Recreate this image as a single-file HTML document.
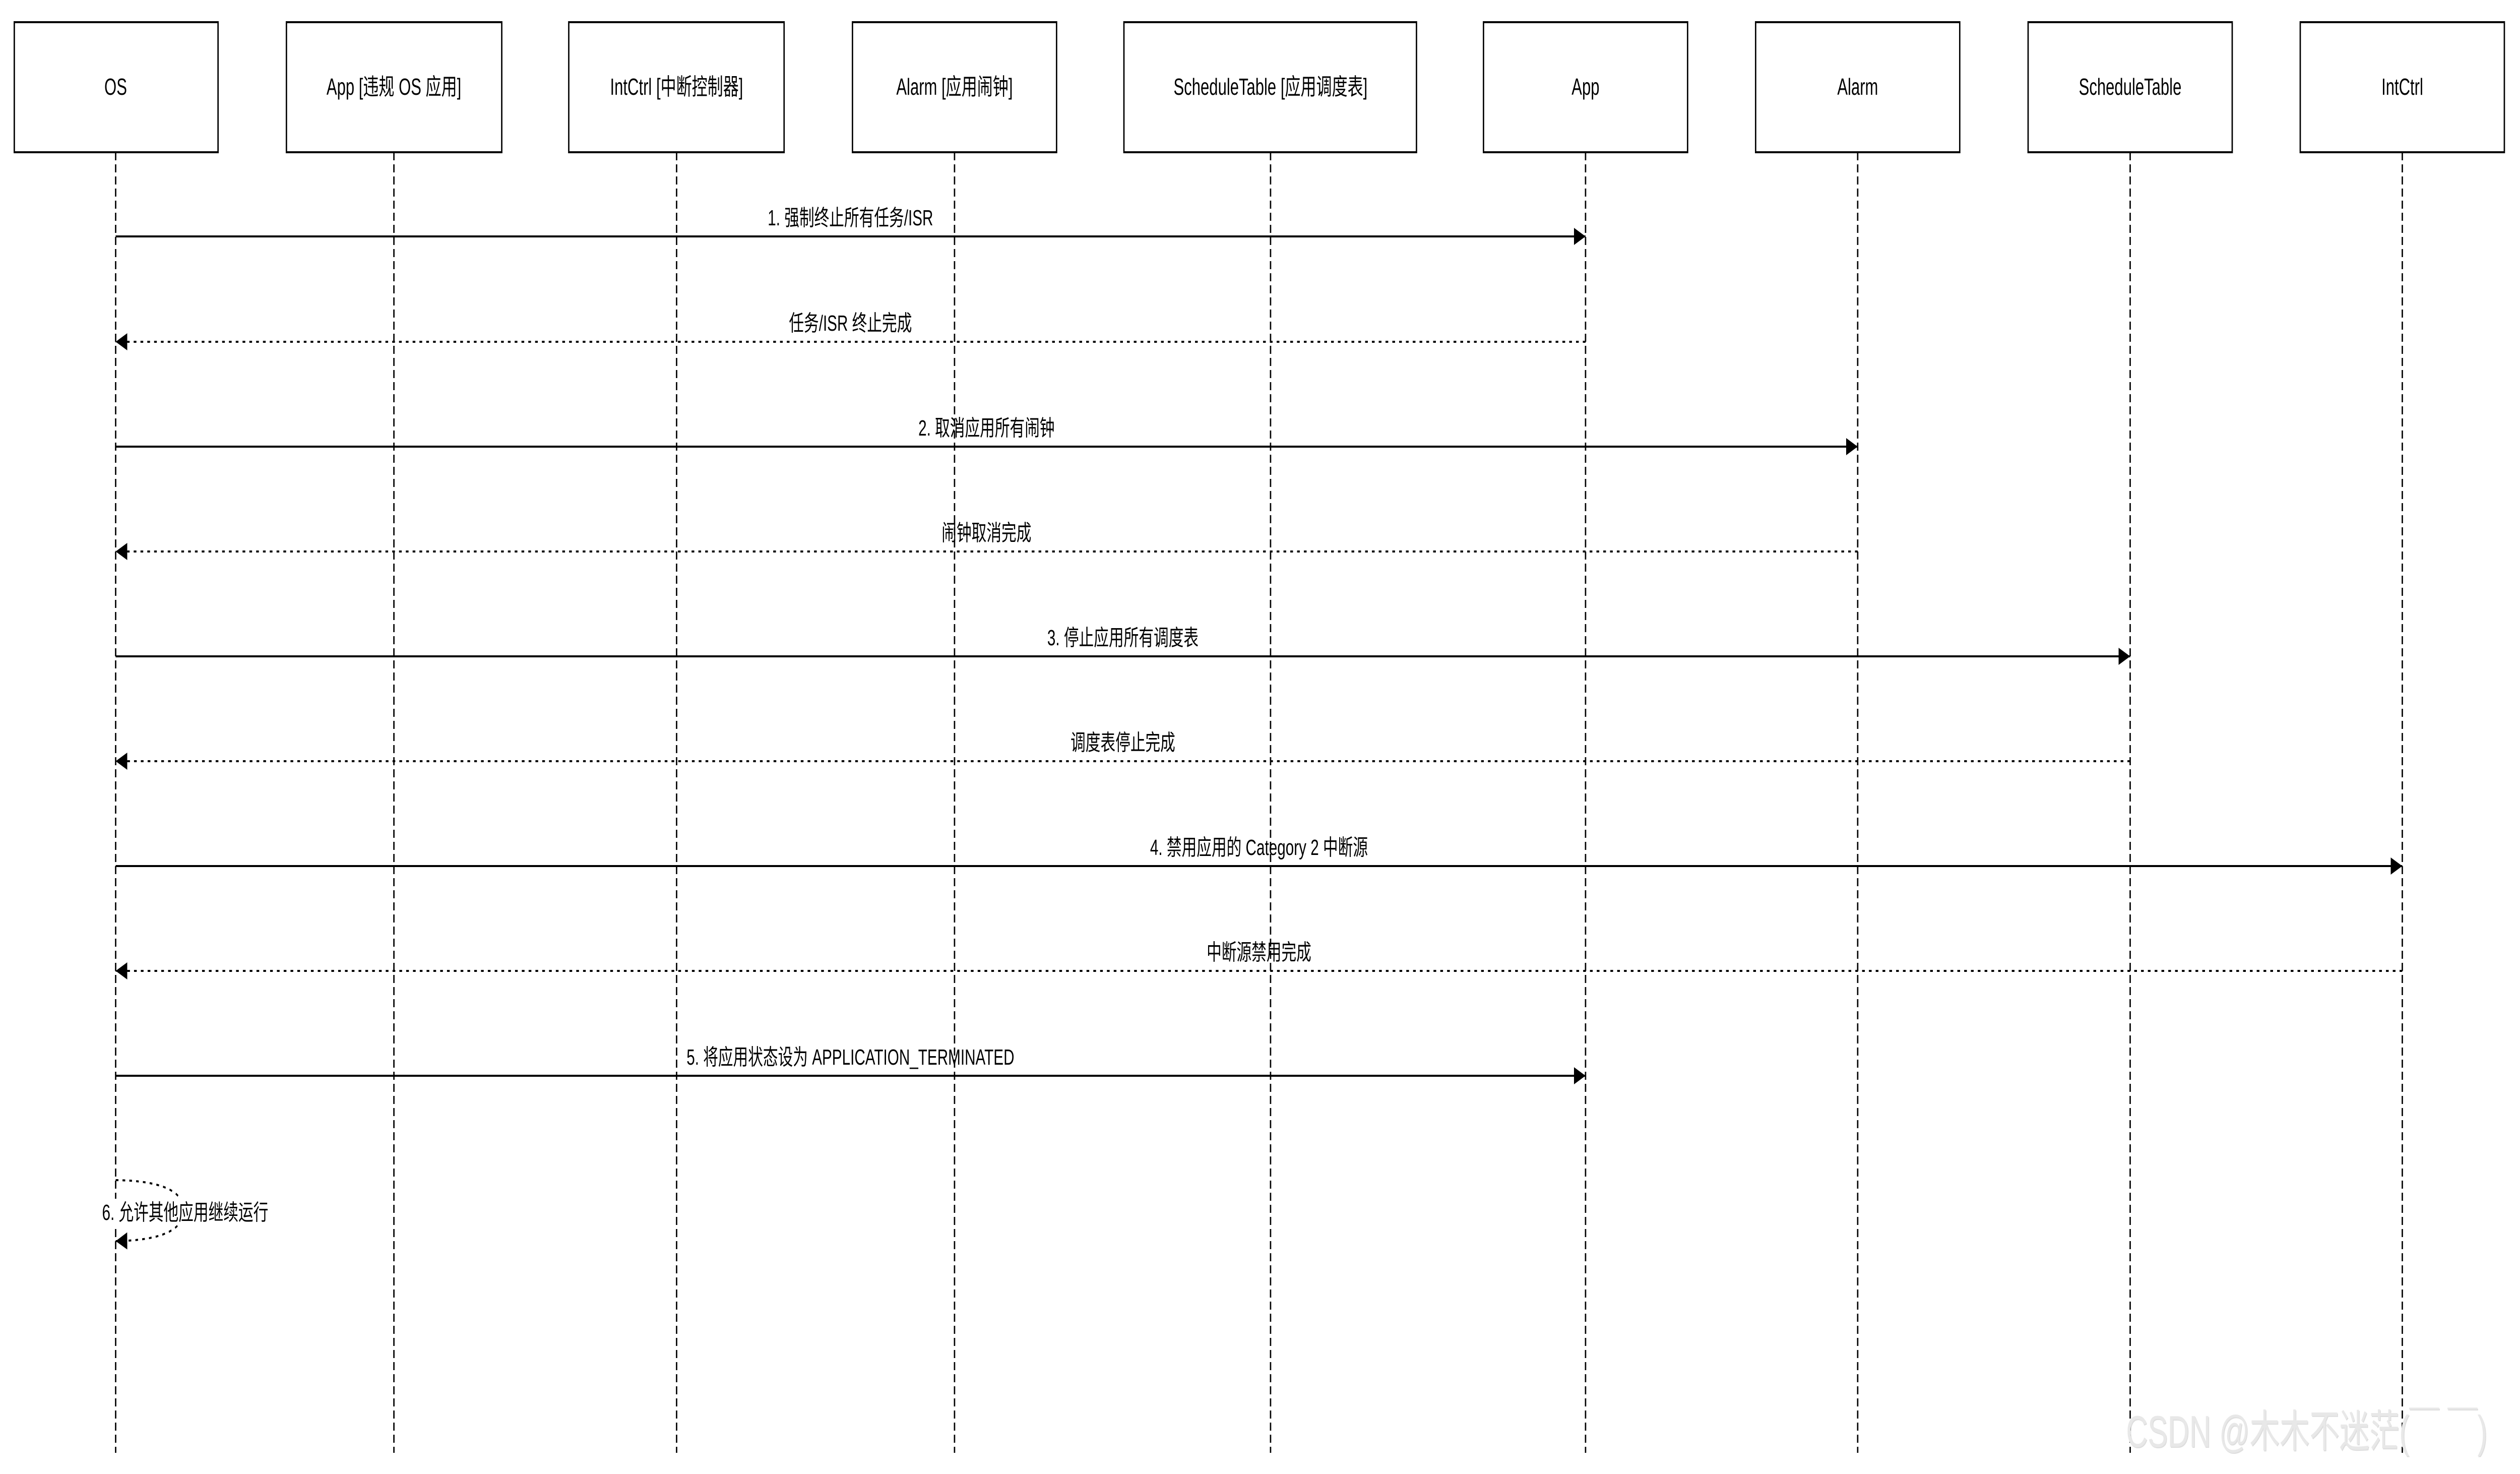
<!DOCTYPE html>
<html><head><meta charset="utf-8"><style>
html,body{margin:0;padding:0;background:#fff;overflow:hidden;width:100%;height:100%;}
svg{display:block;width:100vw;height:100vh;}
text{font-family:"Liberation Sans","Noto Sans CJK SC",sans-serif;fill:#000;}
</style></head><body>
<svg viewBox="0 0 7408 2924" preserveAspectRatio="none" xmlns="http://www.w3.org/2000/svg">
<defs>
<marker id="ah" markerWidth="36" markerHeight="34" refX="34" refY="17" orient="auto" markerUnits="userSpaceOnUse">
<path d="M0,0 L34,17 L0,34 Z" fill="#000"/>
</marker>
</defs>
<rect width="7408" height="2924" fill="#fff"/>
<g stroke="#000" stroke-width="4" stroke-dasharray="16 8">
<line x1="340" y1="302" x2="340" y2="2882"/>
<line x1="1158" y1="302" x2="1158" y2="2882"/>
<line x1="1989" y1="302" x2="1989" y2="2882"/>
<line x1="2806" y1="302" x2="2806" y2="2882"/>
<line x1="3735" y1="302" x2="3735" y2="2882"/>
<line x1="4661" y1="302" x2="4661" y2="2882"/>
<line x1="5461" y1="302" x2="5461" y2="2882"/>
<line x1="6262" y1="302" x2="6262" y2="2882"/>
<line x1="7062" y1="302" x2="7062" y2="2882"/>
</g>
<g fill="#fff" stroke="#000" stroke-width="4">
<rect x="42" y="44" width="599" height="258"/>
<rect x="842" y="44" width="633" height="258"/>
<rect x="1672" y="44" width="633" height="258"/>
<rect x="2506" y="44" width="600" height="258"/>
<rect x="3304" y="44" width="860" height="258"/>
<rect x="4361" y="44" width="600" height="258"/>
<rect x="5161" y="44" width="600" height="258"/>
<rect x="5962" y="44" width="600" height="258"/>
<rect x="6762" y="44" width="600" height="258"/>
</g>
<g font-size="46" text-anchor="middle">
<text x="340" y="188">OS</text>
<text x="1158" y="188">App [违规 OS 应用]</text>
<text x="1989" y="188">IntCtrl [中断控制器]</text>
<text x="2806" y="188">Alarm [应用闹钟]</text>
<text x="3735" y="188">ScheduleTable [应用调度表]</text>
<text x="4661" y="188">App</text>
<text x="5461" y="188">Alarm</text>
<text x="6262" y="188">ScheduleTable</text>
<text x="7062" y="188">IntCtrl</text>
</g>
<g stroke="#000" stroke-width="4" fill="none">
<line x1="340" y1="469" x2="4661" y2="469" marker-end="url(#ah)"/>
<line x1="4661" y1="678" x2="340" y2="678" stroke-dasharray="8 12" marker-end="url(#ah)"/>
<line x1="340" y1="886" x2="5461" y2="886" marker-end="url(#ah)"/>
<line x1="5461" y1="1094" x2="340" y2="1094" stroke-dasharray="8 12" marker-end="url(#ah)"/>
<line x1="340" y1="1302" x2="6262" y2="1302" marker-end="url(#ah)"/>
<line x1="6262" y1="1510" x2="340" y2="1510" stroke-dasharray="8 12" marker-end="url(#ah)"/>
<line x1="340" y1="1718" x2="7062" y2="1718" marker-end="url(#ah)"/>
<line x1="7062" y1="1926" x2="340" y2="1926" stroke-dasharray="8 12" marker-end="url(#ah)"/>
<line x1="340" y1="2134" x2="4661" y2="2134" marker-end="url(#ah)"/>
<path d="M340 2341 Q 540 2343 540 2401 Q 540 2460 340 2462" stroke-dasharray="8 12" marker-end="url(#ah)"/>
</g>
<g font-size="44" text-anchor="middle">
<text x="2500" y="447">1. 强制终止所有任务/ISR</text>
<text x="2500" y="656">任务/ISR 终止完成</text>
<text x="2900" y="864">2. 取消应用所有闹钟</text>
<text x="2900" y="1072">闹钟取消完成</text>
<text x="3301" y="1280">3. 停止应用所有调度表</text>
<text x="3301" y="1488">调度表停止完成</text>
<text x="3701" y="1696">4. 禁用应用的 Category 2 中断源</text>
<text x="3701" y="1904">中断源禁用完成</text>
<text x="2500" y="2112">5. 将应用状态设为 APPLICATION_TERMINATED</text>
</g>
<rect x="298" y="2378" width="492" height="52" fill="#fff"/>
<text x="300" y="2420" font-size="44">6. 允许其他应用继续运行</text>
<text x="6252" y="2872" font-size="88" style="fill:#c8c8c8" opacity="0.6">CSDN @木木不迷茫(￣ ￣)</text>
<text x="6250" y="2870" font-size="88" style="fill:#e8e8e8">CSDN @木木不迷茫(￣ ￣)</text>
</svg>
</body></html>
